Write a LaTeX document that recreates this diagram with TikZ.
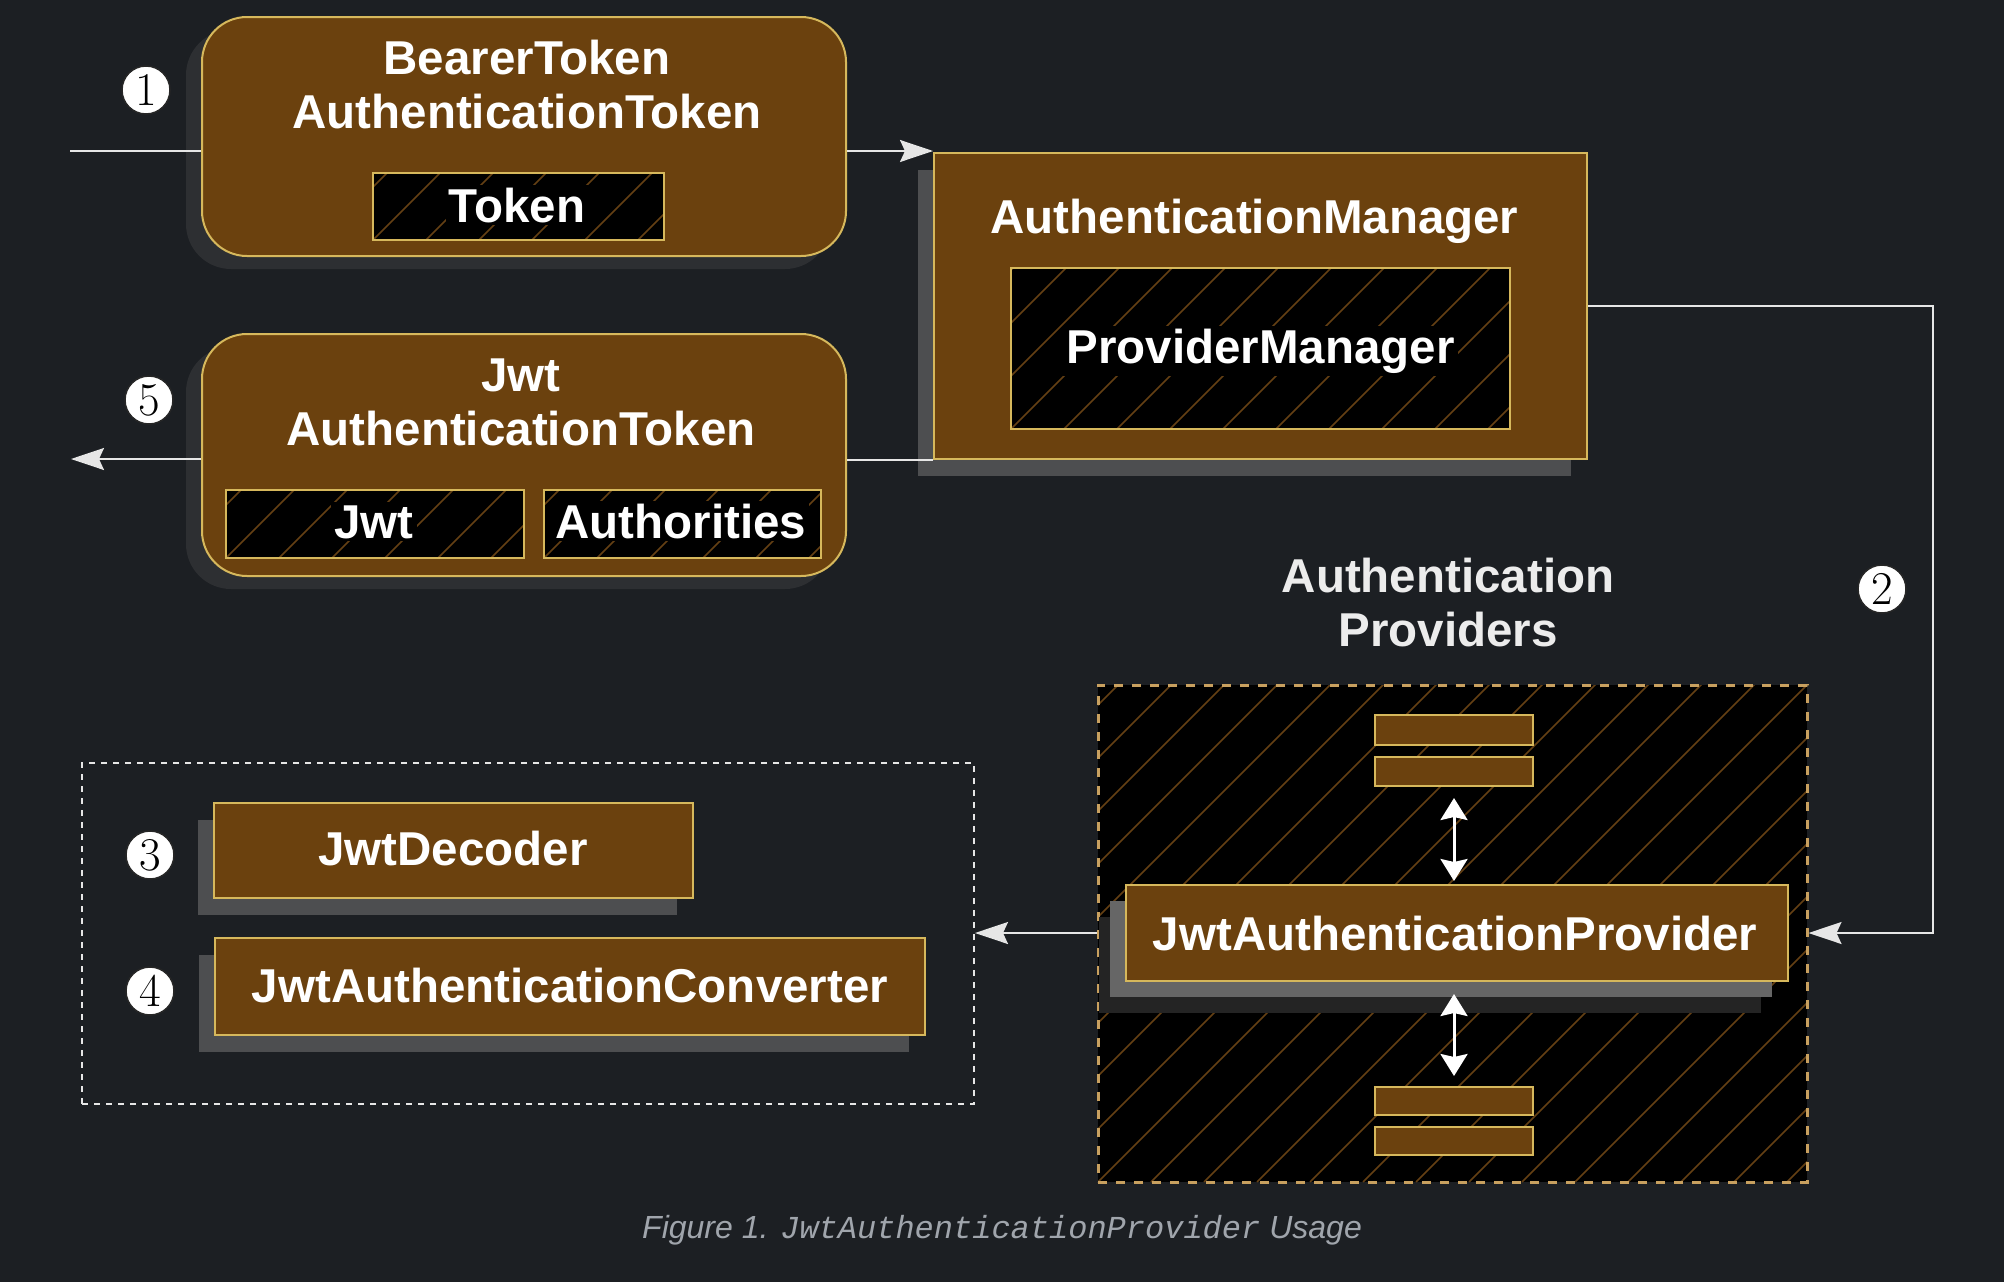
\documentclass[tikz,border=0pt]{standalone}
\usepackage{fontspec}
\newfontfamily\lsans{Liberation Sans}
\newfontfamily\lmono{Liberation Mono}
\usetikzlibrary{arrows.meta,shadows,calc}
\definecolor{bgc}{RGB}{28,31,35}
\definecolor{brn}{RGB}{107,65,14}
\definecolor{bord}{RGB}{214,184,92}
\definecolor{hatchc}{RGB}{100,64,20}
\definecolor{tanc}{RGB}{200,160,95}
\definecolor{linec}{RGB}{230,230,230}
\definecolor{shA}{RGB}{45,47,50}
\definecolor{shB}{RGB}{77,78,80}
\definecolor{shC}{RGB}{102,102,102}
\definecolor{shD}{RGB}{36,36,36}
\definecolor{capc}{RGB}{160,165,172}
\definecolor{lightc}{RGB}{236,236,236}
\tikzset{
  lbl/.style={font=\lsans\bfseries\fontsize{47.5}{54}\selectfont, text=white, inner sep=0pt, align=center},
  txtbg/.style={fill=black, inner sep=3pt},
  box/.style={draw=bord, line width=2pt, fill=brn, inner sep=0pt},
  rbox/.style={box, rounded corners=45pt, drop shadow={shadow xshift=-16pt, shadow yshift=-13pt, fill=shA, opacity=1}},
  sbox/.style={box, drop shadow={shadow xshift=-16pt, shadow yshift=-17pt, fill=shB, opacity=1}},
  hatchline/.style={draw=hatchc, line width=1.6pt, solid},
  hatched/.style={path picture={
      \foreach \k in {-12,...,16}{
        \draw[hatchline] ([xshift=\k*53pt]path picture bounding box.south west) -- ++(1200pt,1200pt);}}},
  hbox/.style={draw=bord, line width=2pt, fill=black, inner sep=0pt, hatched},
  pboxstyle/.style={draw=tanc, line width=3pt, dash pattern=on 9pt off 9pt, fill=black, inner sep=0pt, hatched},
  num/.style={circle, fill=white, draw=black!85, line width=1.5pt, minimum size=48pt, inner sep=0pt,
      font=\rmfamily\fontsize{47}{47}\selectfont, text=black},
  conn/.style={draw=linec, line width=2pt},
  arr/.style={conn, -{Stealth[length=33pt,width=22pt,inset=5pt]}},
  dbl/.style={draw=white, line width=3pt, {Stealth[length=22pt,width=27pt,inset=3pt]}-{Stealth[length=22pt,width=27pt,inset=3pt]}}
}
\begin{document}
\begin{tikzpicture}[x=1pt,y=-1pt]
\fill[bgc] (0,0) rectangle (2004,1282);
\useasboundingbox (0,0) rectangle (2004,1282);

% BearerTokenAuthenticationToken
\node[rbox, minimum width=644pt, minimum height=239pt] (bt) at (524,136.5) {};
\node[hbox, minimum width=291pt, minimum height=67pt] (tokb) at (518.5,206.5) {};
\node[lbl, anchor=north] (btt) at (527,40) {BearerToken\\AuthenticationToken};
\node[lbl, txtbg, anchor=base] (tokt) at (517,222) {Token};

% JwtAuthenticationToken
\node[rbox, minimum width=644pt, minimum height=242pt] (jt) at (524,455) {};
\node[lbl, anchor=north] (jtt) at (521,359) {Jwt\\AuthenticationToken};
\node[hbox, minimum width=298pt, minimum height=68pt] (jwtb) at (375,524) {};
\node[lbl, txtbg, anchor=base] (jwtt) at (374,538) {Jwt};
\node[hbox, minimum width=277pt, minimum height=68pt] (autb) at (682.5,524) {};
\node[lbl, txtbg, anchor=base] (autt) at (681,538) {Authorities};

% AuthenticationManager
\node[sbox, minimum width=653pt, minimum height=306pt] (am) at (1260.5,306) {};
\node[lbl, anchor=base] (amt) at (1254.5,233) {AuthenticationManager};
\node[hbox, minimum width=499pt, minimum height=161pt] (pmb) at (1260.5,348.5) {};
\node[lbl, txtbg, anchor=base] (pmt) at (1260.5,363) {ProviderManager};

% Authentication Providers
\node[lbl, text=lightc, anchor=north] (apt) at (1448,558) {Authentication\\Providers};
\node[pboxstyle, minimum width=709pt, minimum height=497pt] (pbox) at (1452.5,933.5) {};
\node[box, minimum width=158pt, minimum height=30pt] (sb1) at (1454,729.5) {};
\node[box, minimum width=158pt, minimum height=29pt] (sb2) at (1454,771.5) {};
\node[box, minimum width=158pt, minimum height=28pt] (sb3) at (1454,1101) {};
\node[box, minimum width=158pt, minimum height=28pt] (sb4) at (1454,1141) {};
\node[box, minimum width=662pt, minimum height=96pt,
      drop shadow={shadow xshift=-27pt, shadow yshift=-32pt, fill=shD, opacity=1},
      drop shadow={shadow xshift=-16pt, shadow yshift=-16pt, fill=shC, opacity=1}] (jap) at (1457,933) {};
\node[lbl, anchor=base] (japt) at (1455,950) {JwtAuthenticationProvider};
\draw[dbl, shorten <=11pt, shorten >=3pt] (sb2.south) -- (sb2.south |- jap.north);
\draw[dbl, shorten <=12pt, shorten >=10pt] (sb3.north |- jap.south) -- (sb3.north);

% left group
\node[draw=linec, line width=2pt, dash pattern=on 6pt off 6pt, minimum width=892pt, minimum height=341pt, inner sep=0pt] (ldash) at (528,933.5) {};
\node[sbox, minimum width=479pt, minimum height=95pt] (jd) at (453.5,850.5) {};
\node[lbl, anchor=base] (jdt) at (453,865) {JwtDecoder};
\node[sbox, minimum width=710pt, minimum height=97pt] (jac) at (570,986.5) {};
\node[lbl, anchor=base] (jact) at (570,1002) {JwtAuthenticationConverter};

% numbers
\node[num] (n1) at (146,90) {1};
\node[num] (n2) at (1882,589) {2};
\node[num] (n3) at (150,855) {3};
\node[num] (n4) at (150,991) {4};
\node[num] (n5) at (149,400) {5};

% connectors
\coordinate (in1) at (70,151);
\draw[conn] (in1) -- (in1 -| bt.west);
\draw[arr] (in1 -| bt.east) -- (in1 -| am.west);
\draw[conn] (am.south west) -- (am.south west -| jt.east);
\coordinate (out5) at (71,459);
\draw[arr] (out5 -| jt.west) -- (out5);
\coordinate (r2) at (1933,307);
\draw[arr] (am.east) -- (am.east -| r2) -- (r2 |- jap.center) -- (pbox.east |- jap.center);
\draw[arr] (pbox.west |- jap.center) -- (ldash.east |- jap.center);

% caption
\node[font=\fontsize{32}{36}\selectfont, text=capc, anchor=base, inner sep=0pt] (cap) at (1002,1238)
  {\lsans\itshape Figure 1. \lmono\itshape JwtAuthenticationProvider\lsans\itshape{} Usage};
\end{tikzpicture}
\end{document}
